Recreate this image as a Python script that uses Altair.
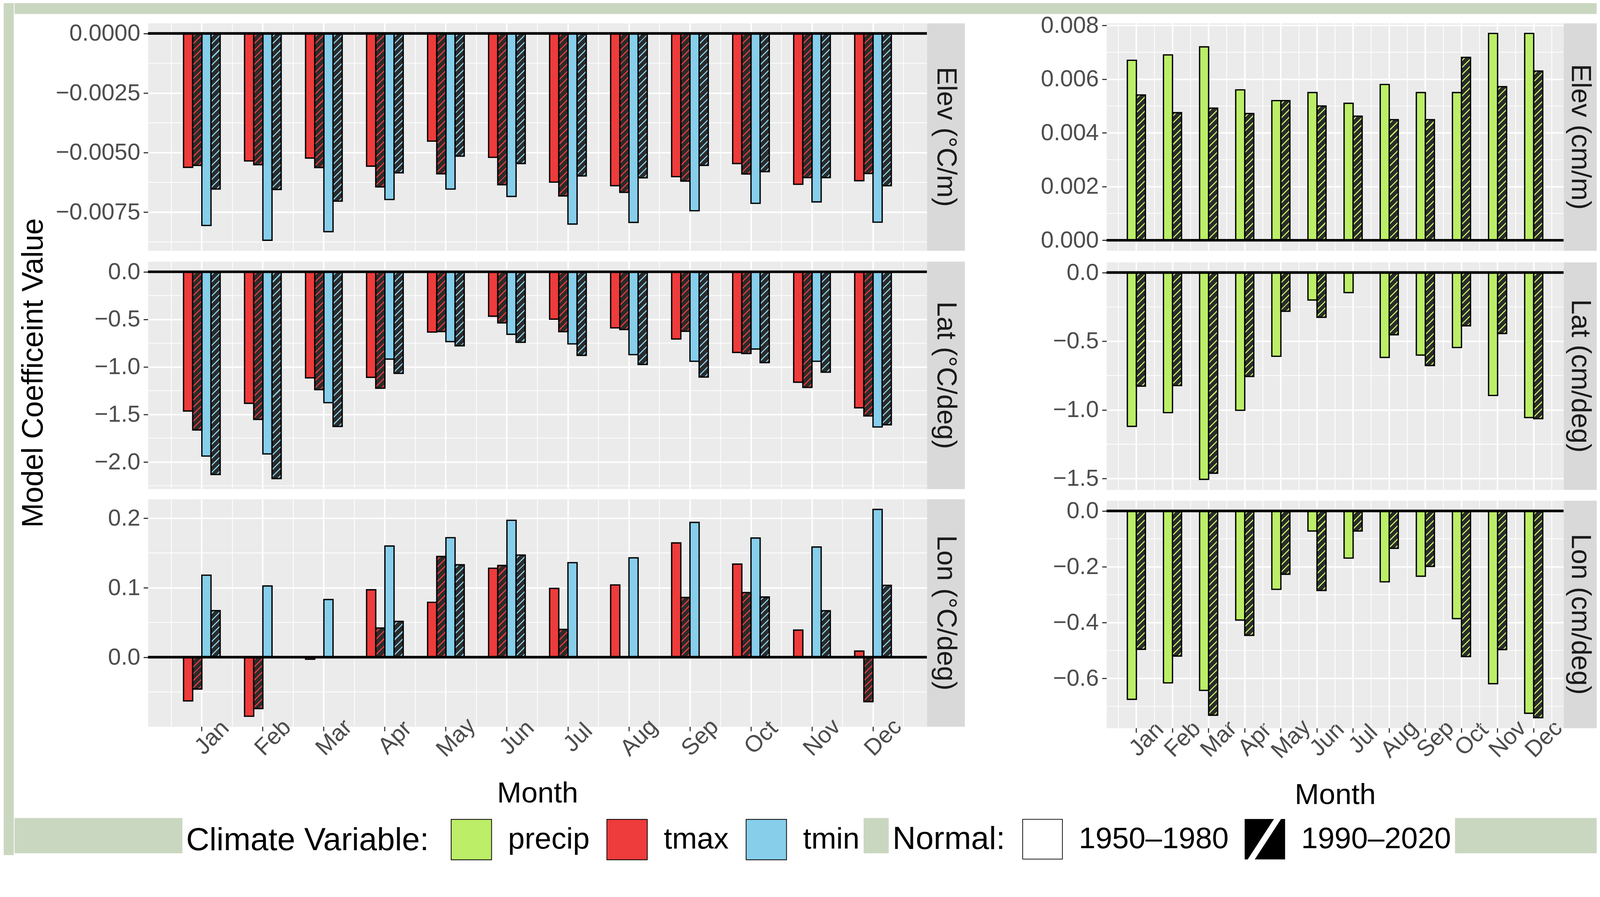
import altair as alt

FONT = "Liberation Sans"

months = ["Jan", "Feb", "Mar", "Apr", "May", "Jun", "Jul", "Aug", "Sep", "Oct", "Nov", "Dec"]
normals = ["1950–1980", "1990–2020"]
variables = ["precip", "tmax", "tmin"]

# ---------------- temperature coefficients (left block) ----------------
elev_tmax_1950 = [-0.00562, -0.00535, -0.00523, -0.00557, -0.00452, -0.00520, -0.00624, -0.00639, -0.00601, -0.00546, -0.00633, -0.00618]
elev_tmax_1990 = [-0.00554, -0.00551, -0.00563, -0.00644, -0.00589, -0.00635, -0.00682, -0.00667, -0.00620, -0.00590, -0.00605, -0.00588]
elev_tmin_1950 = [-0.00806, -0.00868, -0.00832, -0.00697, -0.00653, -0.00684, -0.00800, -0.00793, -0.00744, -0.00713, -0.00707, -0.00792]
elev_tmin_1990 = [-0.00653, -0.00655, -0.00704, -0.00585, -0.00515, -0.00546, -0.00598, -0.00606, -0.00554, -0.00580, -0.00605, -0.00639]

lat_tmax_1950 = [-1.464, -1.383, -1.115, -1.110, -0.634, -0.467, -0.498, -0.590, -0.707, -0.848, -1.161, -1.430]
lat_tmax_1990 = [-1.663, -1.553, -1.239, -1.224, -0.629, -0.537, -0.630, -0.607, -0.626, -0.860, -1.216, -1.516]
lat_tmin_1950 = [-1.938, -1.915, -1.376, -0.918, -0.734, -0.657, -0.758, -0.871, -0.941, -0.812, -0.941, -1.632]
lat_tmin_1990 = [-2.132, -2.175, -1.627, -1.068, -0.778, -0.742, -0.879, -0.975, -1.107, -0.955, -1.056, -1.609]

lon_tmax_1950 = [-0.063, -0.085, -0.003, 0.097, 0.079, 0.128, 0.099, 0.104, 0.1645, 0.134, 0.039, 0.0088]
lon_tmax_1990 = [-0.046, -0.074, None, 0.042, 0.145, 0.132, 0.040, None, 0.086, 0.093, None, -0.064]
lon_tmin_1950 = [0.118, 0.1025, 0.083, 0.160, 0.172, 0.197, 0.136, 0.143, 0.194, 0.1715, 0.1586, 0.2127]
lon_tmin_1990 = [0.067, None, None, 0.0515, 0.133, 0.147, None, None, None, 0.0866, 0.0668, 0.1034]

# ---------------- precipitation coefficients (right block) ----------------
elev_precip_1950 = [0.0067, 0.0069, 0.0072, 0.0056, 0.0052, 0.0055, 0.0051, 0.0058, 0.0055, 0.0055, 0.0077, 0.0077]
elev_precip_1990 = [0.00541, 0.00475, 0.00492, 0.00472, 0.0052, 0.0050, 0.00462, 0.00449, 0.00449, 0.00681, 0.00572, 0.0063]
lat_precip_1950 = [-1.120, -1.020, -1.506, -1.003, -0.610, -0.200, -0.146, -0.618, -0.601, -0.546, -0.895, -1.056]
lat_precip_1990 = [-0.827, -0.823, -1.461, -0.757, -0.282, -0.326, None, -0.453, -0.677, -0.388, -0.444, -1.064]
lon_precip_1950 = [-0.675, -0.616, -0.643, -0.391, -0.281, -0.072, -0.169, -0.254, -0.234, -0.386, -0.619, -0.725]
lon_precip_1990 = [-0.496, -0.520, -0.732, -0.446, -0.227, -0.285, -0.072, -0.134, -0.199, -0.522, -0.497, -0.741]

# ---------------- tick labels / strip labels ----------------
ticks_T = {"Elev": [-0.0075, -0.005, -0.0025, 0.0], "Lat": [-2.0, -1.5, -1.0, -0.5, 0.0], "Lon": [0.0, 0.1, 0.2]}
fmt_T = {"Elev": ".4f", "Lat": ".1f", "Lon": ".1f"}
ticks_P = {"Elev": [0.0, 0.002, 0.004, 0.006, 0.008], "Lat": [-1.5, -1.0, -0.5, 0.0], "Lon": [-0.6, -0.4, -0.2, 0.0]}
fmt_P = {"Elev": ".3f", "Lat": ".1f", "Lon": ".1f"}
strip_T = {"Elev": "Elev (°C/m)", "Lat": "Lat (°C/deg)", "Lon": "Lon (°C/deg)"}
strip_P = {"Elev": "Elev (cm/m)", "Lat": "Lat (cm/deg)", "Lon": "Lon (cm/deg)"}
y_title = "Model Coefficeint Value"
x_title = "Month"

# ---------------- styling ----------------
GREEN_BG = "#CAD7C0"
PANEL_BG = "#EBEBEB"
STRIP_BG = "#D9D9D9"
COLORS = {"precip": "#BCEE68", "tmax": "#EE3B3B", "tmin": "#87CEEB"}
TICK_TXT = "#4D4D4D"
TICK_COL = "#333333"
DARK = "#2B2B2B"
PANEL_H = 608
GAP = 23
W_L, W_R = 2081, 1221
STRIP_L, STRIP_R = 101, 88
PO_L, PO_R = 0.383, 0.326      # outer padding of the month band scale
OFF_L, OFF_R = 0.333, 0.0      # outer padding of the dodge scale
MAJOR_W, MINOR_W = 4.0, 2.0
BAR_SW = 3.5
KEY = 108
PV = 19.0
FRAC = 0.22


def hatch(color, w, h):
    span = w + h
    n = max(1, int(round(span / PV)))
    s = span / (w * w + h * h)
    stops = [{"offset": 0.0, "color": DARK}]
    for k in range(n):
        a = round((k + 0.39) / n, 5)
        b = round((k + 0.39 + FRAC) / n, 5)
        stops += [{"offset": a, "color": DARK}, {"offset": a, "color": color},
                  {"offset": b, "color": color}, {"offset": b, "color": DARK}]
    stops.append({"offset": 1.0, "color": DARK})
    return {"gradient": "linear", "x1": 0, "y1": 0,
            "x2": round(s * w, 6), "y2": round(s * h, 6), "stops": stops}


color_legend = alt.Legend(
    title="Climate Variable:", orient="none", legendX=478, legendY=2175,
    direction="horizontal", titleOrient="left", titleAnchor="middle",
    fillColor="white", padding=10, symbolType="square", symbolSize=KEY * KEY,
    symbolStrokeColor="black", symbolStrokeWidth=2, symbolOpacity=1,
    labelFontSize=80, labelFont=FONT, labelColor="black", labelOffset=43,
    labelLimit=1000, columnPadding=42, titleFontSize=86, titleFont=FONT,
    titleColor="black", titleFontWeight="normal", titlePadding=58, titleLimit=2000)

shape_legend = alt.Legend(
    title="Normal:", orient="none", legendX=2365, legendY=2175,
    direction="horizontal", titleOrient="left", titleAnchor="middle",
    fillColor="white", padding=10, symbolSize=KEY * KEY,
    symbolFillColor="black", symbolStrokeWidth=0, symbolOpacity=1,
    labelFontSize=80, labelFont=FONT, labelColor="black", labelOffset=43,
    labelLimit=1000, columnPadding=42, titleFontSize=86, titleFont=FONT,
    titleColor="black", titleFontWeight="normal", titlePadding=45, titleLimit=2000)

PATH_OPEN = "M-1,-1H1V1H-1Z M-0.965,-0.965V0.965H0.965V-0.965Z"
PATH_HATCH = "M-1,-1H1V1H-1Z M-0.85,1L-0.5,1L0.8,-1L0.45,-1Z"


def build_panel(block_series, ticks, fmt, width, p_out, off_pad, bottom, extra=()):
    vals = [v for _, _, s in block_series for v in s if v is not None] + [0.0]
    lo, hi = min(vals), max(vals)
    ex = 0.05 * (hi - lo)
    dom = [lo - ex, hi + ex]
    keys = [f"{v} {n}" for v, n, _ in block_series]
    off_domain = ["_lead"] + keys + ["_trail"]
    step = width / (12 + 2 * p_out)
    bar_w = step / (len(off_domain) + 2 * off_pad)
    plain, hatched = [], []
    for var, nrm, series in block_series:
        for m, v in zip(months, series):
            if v is None:
                continue
            rec = {"Month": m, "Variable": var, "Normal": nrm, "Series": f"{var} {nrm}", "Value": v}
            if nrm == normals[0]:
                plain.append(rec)
            else:
                h = abs(v) / (dom[1] - dom[0]) * PANEL_H
                rec["Hatch"] = hatch(COLORS[var], bar_w, h)
                hatched.append(rec)

    if bottom:
        xaxis = alt.Axis(labelAngle=-45, labelAlign="center", labelBaseline="middle",
                         labelPadding=17, labelOffset=27, labelFontSize=62, labelColor=TICK_TXT,
                         labelFont=FONT, labelOverlap=False, tickColor=TICK_COL, tickWidth=3,
                         tickSize=12, domain=False, grid=True, gridColor="white",
                         gridWidth=MAJOR_W, titleFontSize=78, titleFont=FONT, titleColor="black",
                         titleFontWeight="normal", titlePadding=48)
        xt = x_title
    else:
        xaxis = alt.Axis(labels=False, ticks=False, domain=False, grid=True,
                         gridColor="white", gridWidth=MAJOR_W)
        xt = None

    def X(**kw):
        return alt.X("Month:N", sort=months, title=xt, axis=xaxis,
                     scale=alt.Scale(domain=months, paddingInner=0, paddingOuter=p_out), **kw)

    yaxis = alt.Axis(values=ticks, format=fmt, labelFontSize=62, labelColor=TICK_TXT,
                     labelFont=FONT, labelPadding=9, labelOverlap=False, labelLimit=500,
                     tickColor=TICK_COL, tickWidth=3, tickSize=12, domain=False, grid=True,
                     gridColor="white", gridWidth=MAJOR_W)

    def Y():
        return alt.Y("Value:Q", title=None, axis=yaxis,
                      scale=alt.Scale(domain=dom, nice=False, zero=False))

    stp = ticks[1] - ticks[0]
    minor = []
    t = ticks[0] - stp / 2
    while t <= dom[1]:
        if t >= dom[0]:
            minor.append(round(t, 10))
        t += stp

    off = alt.XOffset("Series:N", title=None,
                      scale=alt.Scale(domain=off_domain, paddingInner=0, paddingOuter=off_pad))

    gx = alt.Chart(alt.Data(values=[{"Month": m} for m in months])).mark_rule(
        color="white", strokeWidth=MINOR_W).encode(x=X(bandPosition=0))
    gx_end = alt.Chart(alt.Data(values=[{"Month": months[-1]}])).mark_rule(
        color="white", strokeWidth=MINOR_W).encode(x=X(bandPosition=1))
    gy = alt.Chart(alt.Data(values=[{"Value": v} for v in minor])).mark_rule(
        color="white", strokeWidth=MINOR_W).encode(y=Y())
    bars = alt.Chart(alt.Data(values=plain)).mark_bar(stroke="black", strokeWidth=BAR_SW).encode(
        x=X(), xOffset=off, y=Y(),
        fill=alt.Fill("Variable:N", legend=color_legend,
                      scale=alt.Scale(domain=variables, range=[COLORS[v] for v in variables])))
    hbars = alt.Chart(alt.Data(values=hatched)).mark_bar(stroke="black", strokeWidth=BAR_SW).encode(
        x=X(), xOffset=off, y=Y(), fill=alt.Fill("Hatch:N", scale=None))
    zero = alt.Chart(alt.Data(values=[{"Value": 0.0}])).mark_rule(
        color="black", strokeWidth=7).encode(y=Y())
    layers = [gx, gx_end, gy, bars, hbars, zero] + list(extra)
    return alt.layer(*layers).properties(
        width=width, height=PANEL_H,
        view=alt.ViewBackground(fill=PANEL_BG, stroke="transparent"))


def strip(label, width):
    return alt.Chart(alt.Data(values=[{"t": label}])).mark_text(
        angle=90, fontSize=73, font=FONT, color="#1A1A1A", align="center", baseline="middle"
    ).encode(text="t:N").properties(
        width=width, height=PANEL_H, view=alt.ViewBackground(fill=STRIP_BG, stroke="transparent"))


def band(w, h):
    return alt.Chart(alt.Data(values=[{"t": ""}])).mark_text(opacity=0).encode(
        text="t:N").properties(width=w, height=h,
                               view=alt.ViewBackground(fill=GREEN_BG, stroke="transparent"))


normal_key = alt.Chart(alt.Data(values=[{"Normal": n} for n in normals])).transform_filter(
    "false").mark_point(filled=True, color="black").encode(
    shape=alt.Shape("Normal:N", legend=shape_legend,
                    scale=alt.Scale(domain=normals, range=[PATH_OPEN, PATH_HATCH])))

T = {
    "Elev": [("tmax", normals[0], elev_tmax_1950), ("tmax", normals[1], elev_tmax_1990),
             ("tmin", normals[0], elev_tmin_1950), ("tmin", normals[1], elev_tmin_1990)],
    "Lat": [("tmax", normals[0], lat_tmax_1950), ("tmax", normals[1], lat_tmax_1990),
            ("tmin", normals[0], lat_tmin_1950), ("tmin", normals[1], lat_tmin_1990)],
    "Lon": [("tmax", normals[0], lon_tmax_1950), ("tmax", normals[1], lon_tmax_1990),
            ("tmin", normals[0], lon_tmin_1950), ("tmin", normals[1], lon_tmin_1990)],
}
P = {
    "Elev": [("precip", normals[0], elev_precip_1950), ("precip", normals[1], elev_precip_1990)],
    "Lat": [("precip", normals[0], lat_precip_1950), ("precip", normals[1], lat_precip_1990)],
    "Lon": [("precip", normals[0], lon_precip_1950), ("precip", normals[1], lon_precip_1990)],
}

coefs = ["Elev", "Lat", "Lon"]
left_rows, right_rows = [], []
for i, c in enumerate(coefs):
    bottom = (i == 2)
    lp = build_panel(T[c], ticks_T[c], fmt_T[c], W_L, PO_L, OFF_L, bottom)
    left_rows.append(alt.hconcat(lp, strip(strip_T[c], STRIP_L), spacing=0, bounds="flush"))
    extra = [normal_key] if bottom else []
    rp = build_panel(P[c], ticks_P[c], fmt_P[c], W_R, PO_R, OFF_R, bottom, extra)
    right_rows.append(alt.hconcat(rp, strip(strip_P[c], STRIP_R), spacing=0, bounds="flush"))

left_col = alt.vconcat(*left_rows, spacing=GAP)
right_col = alt.vconcat(*right_rows, spacing=GAP)

ytitle = alt.Chart(alt.Data(values=[{"t": y_title}])).mark_text(
    angle=270, fontSize=79, font=FONT, color="black", align="center", baseline="middle"
).encode(text="t:N").properties(width=102, height=3 * PANEL_H + 2 * GAP)

content = alt.hconcat(alt.hconcat(ytitle, left_col, spacing=7), right_col,
                      spacing=201).resolve_scale(xOffset="independent")
lower = alt.vconcat(content, band(4227, 94), spacing=20)
right_stack = alt.vconcat(band(4227, 33), lower, spacing=-2)
chart = alt.hconcat(band(27, 2281), right_stack, spacing=0).properties(
    padding={"top": -54, "bottom": -37, "left": 0, "right": 0}, background="white"
).configure_view(stroke="transparent").configure_axis(labelFont=FONT, titleFont=FONT)

chart.save("out.html", embed_options={"renderer": "svg", "actions": False})
